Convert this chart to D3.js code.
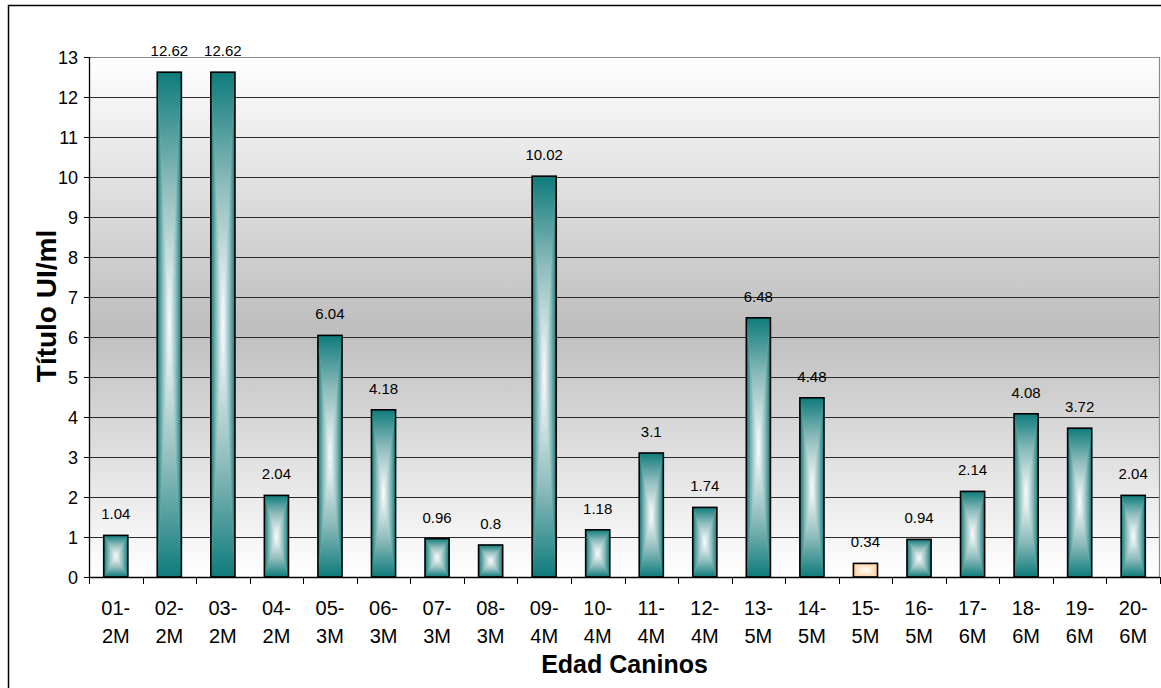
<!DOCTYPE html>
<html><head><meta charset="utf-8">
<script src="https://cdn.jsdelivr.net/npm/d3@7"></script>
<style>html,body{margin:0;padding:0;background:#fff;}svg{display:block;}</style>
</head><body>
<svg id="c" width="1161" height="688"></svg>
<script>
const categories = ["01-2M","02-2M","03-2M","04-2M","05-3M","06-3M","07-3M","08-3M","09-4M","10-4M","11-4M","12-4M","13-5M","14-5M","15-5M","16-5M","17-6M","18-6M","19-6M","20-6M"];
const values = [1.04,12.62,12.62,2.04,6.04,4.18,0.96,0.8,10.02,1.18,3.1,1.74,6.48,4.48,0.34,0.94,2.14,4.08,3.72,2.04];
const highlighted = ["15-5M"];
const yTicks = [0,1,2,3,4,5,6,7,8,9,10,11,12,13];
const yTitle = "Título UI/ml";
const xTitle = "Edad Caninos";

const svg = d3.select("#c");
const L = 89, R = 1160, T = 57, B = 577;
const x = d3.scaleBand().domain(categories).range([L, R]).paddingInner(0.55).paddingOuter(0.275);
const y = d3.scaleLinear().domain([0, 13]).range([B, T]);
const step = x.step();
const FONT = "Liberation Sans, Arial, sans-serif";

const defs = svg.append("defs");
const bg = defs.append("linearGradient").attr("id","bg").attr("x1",0).attr("y1",0).attr("x2",0).attr("y2",1);
bg.append("stop").attr("offset",0).attr("stop-color","#ffffff");
bg.append("stop").attr("offset",0.52).attr("stop-color","#bebebe");
bg.append("stop").attr("offset",1).attr("stop-color","#ffffff");

function mkGrad(id, edge, mid, dir) {
  const g = defs.append("linearGradient").attr("id", id);
  const map = {top:[0,0,0,1], bottom:[0,1,0,0], left:[0,0,1,0], right:[1,0,0,0]}[dir];
  g.attr("x1",map[0]).attr("y1",map[1]).attr("x2",map[2]).attr("y2",map[3]);
  g.append("stop").attr("offset",0).attr("stop-color",edge);
  g.append("stop").attr("offset",0.45).attr("stop-color",mid);
  g.append("stop").attr("offset",1).attr("stop-color","#ffffff");
}
const palettes = {teal:["#0e7b7b","#8fbcbc"], peach:["#ffc895","#ffe6cc"]};
Object.entries(palettes).forEach(([k,[e,m]]) => ["top","bottom","left","right"].forEach(d => mkGrad(k+"-"+d, e, m, d)));

// outer chart border
svg.append("rect").attr("x",8.5).attr("y",5.5).attr("width",1200).attr("height",700)
  .attr("fill","#fff").attr("stroke","#000").attr("stroke-width",1.5);

// plot area
svg.append("rect").attr("x",L).attr("y",T).attr("width",R-L).attr("height",B-T).attr("fill","url(#bg)");

// gridlines
svg.append("g").selectAll("line").data(yTicks.filter(d=>d>0 && d<13)).join("line")
  .attr("x1",L).attr("x2",R).attr("y1",d=>Math.round(y(d))+0.5).attr("y2",d=>Math.round(y(d))+0.5)
  .attr("stroke","#2a2a2a").attr("stroke-width",1);
svg.append("path").attr("d",`M${L},${T+0.5}H${R-0.5}V${B}`).attr("fill","none").attr("stroke","#8a8a8a").attr("stroke-width",1.2);

// bars
const bars = svg.append("g");
categories.forEach((c,i) => {
  const v = values[i];
  const x0 = x(c), w = x.bandwidth(), x1 = x0 + w;
  const y0 = y(v), y1 = y(0);
  const cx = x0 + w/2, cy = (y0 + y1)/2;
  const pal = highlighted.includes(c) ? "peach" : "teal";
  const g = bars.append("g");
  g.append("rect").attr("x",x0).attr("y",y0).attr("width",w).attr("height",y1-y0).attr("fill",palettes[pal][1]);
  const tris = {
    top:[[x0,y0],[x1,y0],[cx,cy]],
    bottom:[[x0,y1],[x1,y1],[cx,cy]],
    left:[[x0,y0],[x0,y1],[cx,cy]],
    right:[[x1,y0],[x1,y1],[cx,cy]]
  };
  Object.entries(tris).forEach(([d,pts]) => {
    g.append("path").attr("d","M"+pts.map(p=>p.join(",")).join("L")+"Z")
      .attr("fill",`url(#${pal}-${d})`).attr("stroke",`url(#${pal}-${d})`).attr("stroke-width",0.3);
  });
  g.append("rect").attr("x",x0).attr("y",y0).attr("width",w).attr("height",y1-y0)
    .attr("fill","none").attr("stroke","#000").attr("stroke-width",1.6);
  svg.append("text").attr("x",cx).attr("y",y0-16).attr("text-anchor","middle")
    .attr("font-family",FONT).attr("font-size",15).attr("fill","#000")
    .text(String(v));
});

// y axis
const yAxis = svg.append("g");
yAxis.append("line").attr("x1",L+0.5).attr("x2",L+0.5).attr("y1",T).attr("y2",B).attr("stroke","#000").attr("stroke-width",1.3);
yAxis.selectAll("line.t").data(yTicks).join("line").attr("class","t")
  .attr("x1",L-5).attr("x2",L).attr("y1",d=>Math.round(y(d))+0.5).attr("y2",d=>Math.round(y(d))+0.5).attr("stroke","#000");
yAxis.selectAll("text").data(yTicks).join("text")
  .attr("x",L-11).attr("y",d=>y(d)+6.5).attr("text-anchor","end")
  .attr("font-family",FONT).attr("font-size",18).text(d=>d);

// x axis
const xAxis = svg.append("g");
xAxis.append("line").attr("x1",L).attr("x2",R).attr("y1",B+0.5).attr("y2",B+0.5).attr("stroke","#000").attr("stroke-width",1.3);
const bounds = categories.map(c => x(c) - (step - x.bandwidth())/2).concat([R]);
xAxis.selectAll("line.t").data(bounds).join("line").attr("class","t")
  .attr("x1",d=>Math.round(d)+0.5).attr("x2",d=>Math.round(d)+0.5).attr("y1",B).attr("y2",B+7).attr("stroke","#000");
categories.forEach(c => {
  const parts = c.split("-");
  const t = xAxis.append("text").attr("text-anchor","middle")
    .attr("font-family",FONT).attr("font-size",20);
  t.append("tspan").attr("x",x(c)+x.bandwidth()/2).attr("y",615).text(parts[0]+"-");
  t.append("tspan").attr("x",x(c)+x.bandwidth()/2).attr("y",643).text(parts[1]);
});

// titles
svg.append("text").attr("x",(L+R)/2).attr("y",673).attr("text-anchor","middle")
  .attr("font-family",FONT).attr("font-weight","bold").attr("font-size",25).text(xTitle);
svg.append("text").attr("transform",`translate(56,306) rotate(-90)`).attr("text-anchor","middle")
  .attr("font-family",FONT).attr("font-weight","bold").attr("font-size",28).text(yTitle);
</script>
</body></html>
